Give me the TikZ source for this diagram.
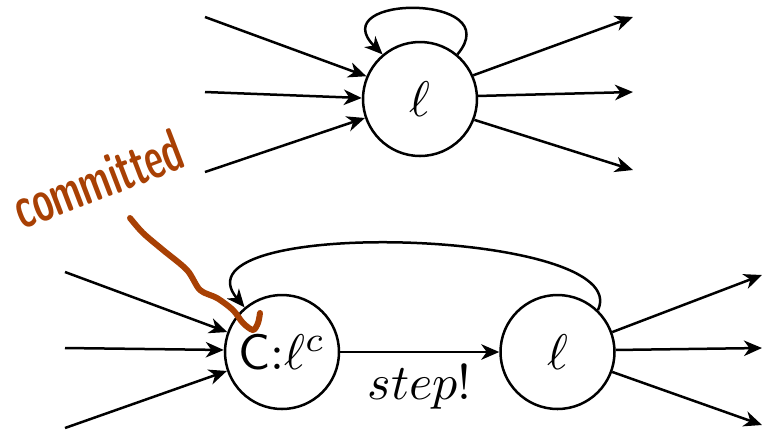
\documentclass[tikz,border=0pt]{standalone}
\usepackage{amsmath,amssymb}
\usetikzlibrary{arrows.meta,positioning}
\definecolor{penbrown}{RGB}{168,64,4}

\begin{document}
\begin{tikzpicture}[
  x=0.2pt, y=0.2pt,
  state/.style={draw, circle, line width=0.5pt, minimum size=22.8pt, inner sep=0pt},
  arr/.style={-{Stealth[length=3.6pt,width=3.1pt,inset=1.1pt]}, line width=0.5pt},
  ink/.style={draw=penbrown, line width=1.2pt, line cap=round, line join=round}]
\useasboundingbox (0,0) rectangle (762,431);
% upper state with its own loop
\node[state] (top) at (420,332) {$\ell$};
\foreach \y/\a [count=\i] in {414/157, 339/179, 259/199} {
  \coordinate (tin\i) at (205,\y);
  \draw[arr] (tin\i) -- (top.\a);
}
\foreach \a/\y [count=\i] in {24/414, 3/339, -21/261} {
  \coordinate (tout\i) at (633,\y);
  \draw[arr] (top.\a) -- (tout\i);
}
\draw[arr] (top.50) .. controls +(50:80) and +(135:85) .. (top.130);
% lower pair: committed state, then step
\node[state] (cl) at (282,79) {\textsf{C}:$\ell^c$};
\node[state, right=31.8pt of cl] (bl) {$\ell$};
\foreach \y/\a [count=\i] in {159/160, 83/178, 3/199} {
  \coordinate (bin\i) at (65,\y);
  \draw[arr] (bin\i) -- (cl.\a);
}
\foreach \a/\y [count=\i] in {20/156, 2/83, -20/6} {
  \coordinate (bout\i) at (762,\y);
  \draw[arr] (bl.\a) -- (bout\i);
}
\draw[arr] (cl) -- (bl) node[midway, below, inner sep=2.4pt] (steplbl) {$step!$};
\draw[arr] (bl.46) .. controls +(65:90) and +(130:120) .. (cl.130);
% handwritten note
\node[text=penbrown, font=\fontsize{12}{12}\sffamily\bfseries, rotate=21, inner sep=0pt] (note) at (98,252) {\scalebox{0.6}[1]{committed}};
\draw[ink] plot[smooth] coordinates {(130,213) (143,198) (163,181) (187,161) (200,141) (217,133) (233,121) (243,108) (253,101) (258,108) (260,118)};
\end{tikzpicture}
\end{document}
